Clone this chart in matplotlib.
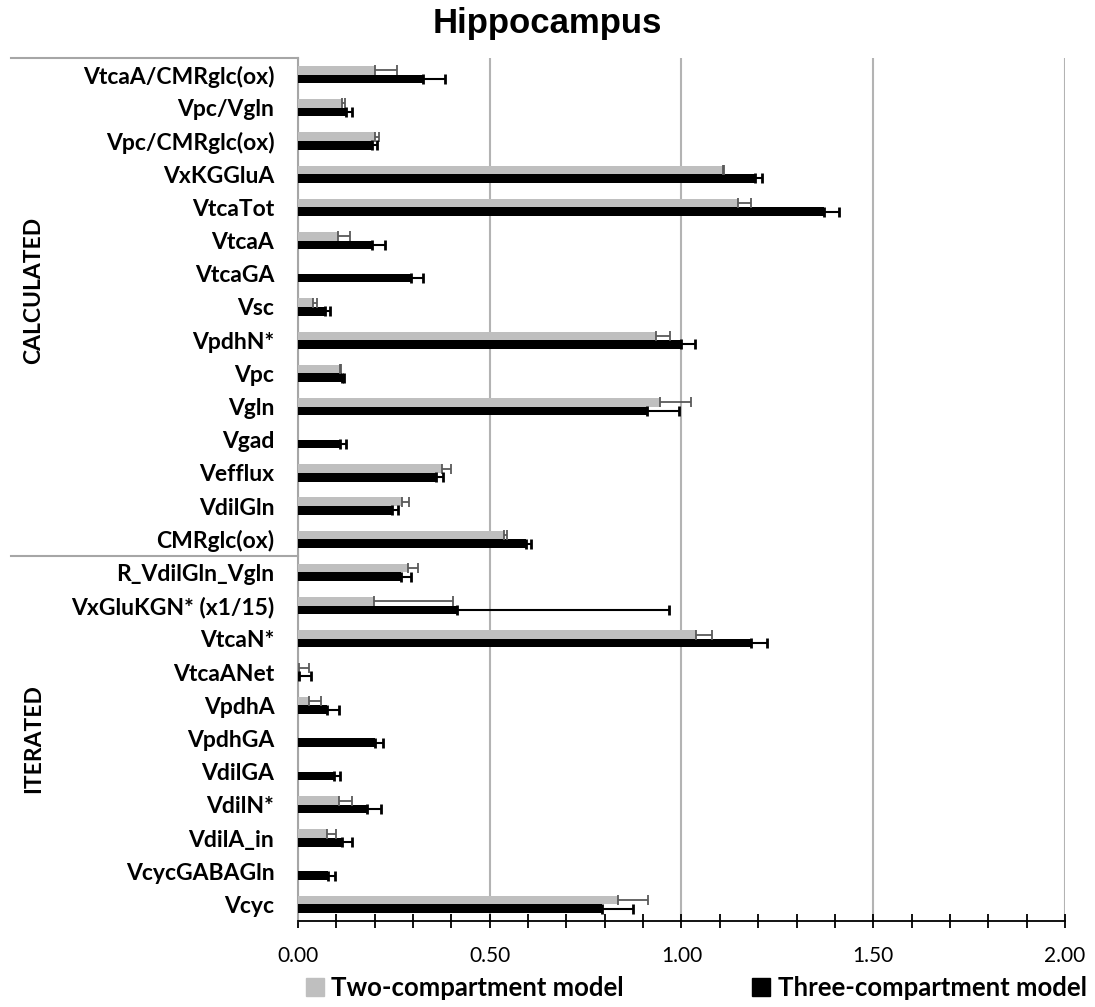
import matplotlib.pyplot as plt
import numpy as np
from matplotlib.patches import Patch

categorias = ['VtcaA/CMRglc(ox)', 'Vpc/Vgln', 'Vpc/CMRglc(ox)', 'VxKGGluA', 'VtcaTot',
              'VtcaA', 'VtcaGA', 'Vsc', 'VpdhN*', 'Vpc', 'Vgln', 'Vgad', 'Vefflux',
              'VdilGln', 'CMRglc(ox)',
              'R_VdilGln_Vgln', 'VxGluKGN* (x1/15)', 'VtcaN*', 'VtcaANet', 'VpdhA',
              'VpdhGA', 'VdilGA', 'VdilN*', 'VdilA_in', 'VcycGABAGln', 'Vcyc']

two_comp = [0.201, 0.114, 0.200, 1.107, 1.148, 0.105, np.nan, 0.040, 0.933, 0.109,
            0.943, np.nan, 0.376, 0.270, 0.537,
            0.288, 0.199, 1.039, 0.003, 0.029, np.nan, np.nan, 0.107, 0.076, np.nan, 0.835]
two_err = [0.056, 0.009, 0.011, 0.004, 0.032, 0.032, np.nan, 0.010, 0.038, 0.003,
           0.083, np.nan, 0.022, 0.019, 0.009,
           0.026, 0.204, 0.041, 0.027, 0.030, np.nan, np.nan, 0.034, 0.022, np.nan, 0.078]

three_comp = [0.326, 0.125, 0.193, 1.193, 1.371, 0.192, 0.296, 0.070, 0.998, 0.114,
              0.909, 0.109, 0.359, 0.244, 0.594,
              0.268, 0.415, 1.180, 0.003, 0.076, 0.201, 0.095, 0.181, 0.114, 0.079, 0.793]
three_err = [0.058, 0.016, 0.012, 0.017, 0.040, 0.034, 0.031, 0.013, 0.038, 0.006,
             0.084, 0.016, 0.018, 0.017, 0.014,
             0.026, 0.553, 0.043, 0.030, 0.031, 0.021, 0.014, 0.035, 0.028, 0.017, 0.081]

grupos = ['CALCULATED', 'ITERATED']
n_grupo = [15, 11]

cinza = '#bfbfbf'
preto = '#000000'

y = np.arange(len(categorias))
h = 0.26

fig = plt.figure(figsize=(10.95, 10.07), dpi=100)
ax = fig.add_axes([0.2721, 0.0854, 0.7005, 0.857])

ax.barh(y - h / 2, two_comp, height=h, color=cinza, zorder=3)
ax.barh(y + h / 2, three_comp, height=h, color=preto, zorder=3)
ax.errorbar(two_comp, y - h / 2, xerr=[np.zeros(len(y)), two_err], fmt='none',
            ecolor='#595959', elinewidth=1.3, capsize=3.5, capthick=1.3, zorder=4)
ax.errorbar(three_comp, y + h / 2, xerr=[np.zeros(len(y)), three_err], fmt='none',
            ecolor=preto, elinewidth=1.5, capsize=3.5, capthick=2, zorder=4)

ax.set_xlim(0, 2)
ax.set_ylim(len(y) - 0.5, -0.5)
ax.set_xticks(np.arange(0, 2.01, 0.5))
ax.set_xticks(np.arange(0, 2.01, 0.1), minor=True)
ax.set_xticklabels(['{:.2f}'.format(v) for v in np.arange(0, 2.01, 0.5)],
                   fontsize=15, family='Lato')
ax.tick_params(axis='x', which='both', direction='inout', length=10, width=1.3, pad=13)
ax.grid(axis='x', which='major', color='#b3b3b3', linewidth=1.5, zorder=0)

ax.set_yticks(y)
ax.set_yticklabels(categorias, fontsize=16.5, family='Lato', fontweight='bold')
ax.tick_params(axis='y', length=0, pad=17)

for s in ['top', 'right']:
    ax.spines[s].set_visible(False)
ax.spines['left'].set_color('#a6a6a6')
ax.spines['left'].set_linewidth(1.5)
ax.spines['bottom'].set_linewidth(1.3)

# linhas dos grupos e rotulos
trans = ax.get_yaxis_transform()
inicio = -0.5
for g, n in zip(grupos, n_grupo):
    ax.plot([-0.374, 0], [inicio, inicio], color='#a6a6a6', lw=1.5,
            transform=trans, clip_on=False)
    meio = inicio + n / 2 - (0.5 if g == 'CALCULATED' else 0)
    ax.text(-0.345, meio, g, rotation=90, ha='center', va='center', transform=trans,
            fontsize=16.5, family='Lato', fontweight='bold')
    inicio += n

fig.suptitle('Hippocampus', x=0.5, y=0.993, va='top', fontsize=25, fontweight='bold',
             family='Liberation Sans')

handles = [Patch(color=cinza, label='Two-compartment model'),
           Patch(color=preto, label='Three-compartment model')]
fig.legend(handles=handles, loc='lower center', bbox_to_anchor=(0.636, -0.016), ncol=2,
           frameon=False, handlelength=0.7, handleheight=0.7, handletextpad=0.3,
           columnspacing=5.0, prop={'family': 'Lato', 'weight': 'bold', 'size': 18.5})

fig.savefig('out.png', dpi=100)
